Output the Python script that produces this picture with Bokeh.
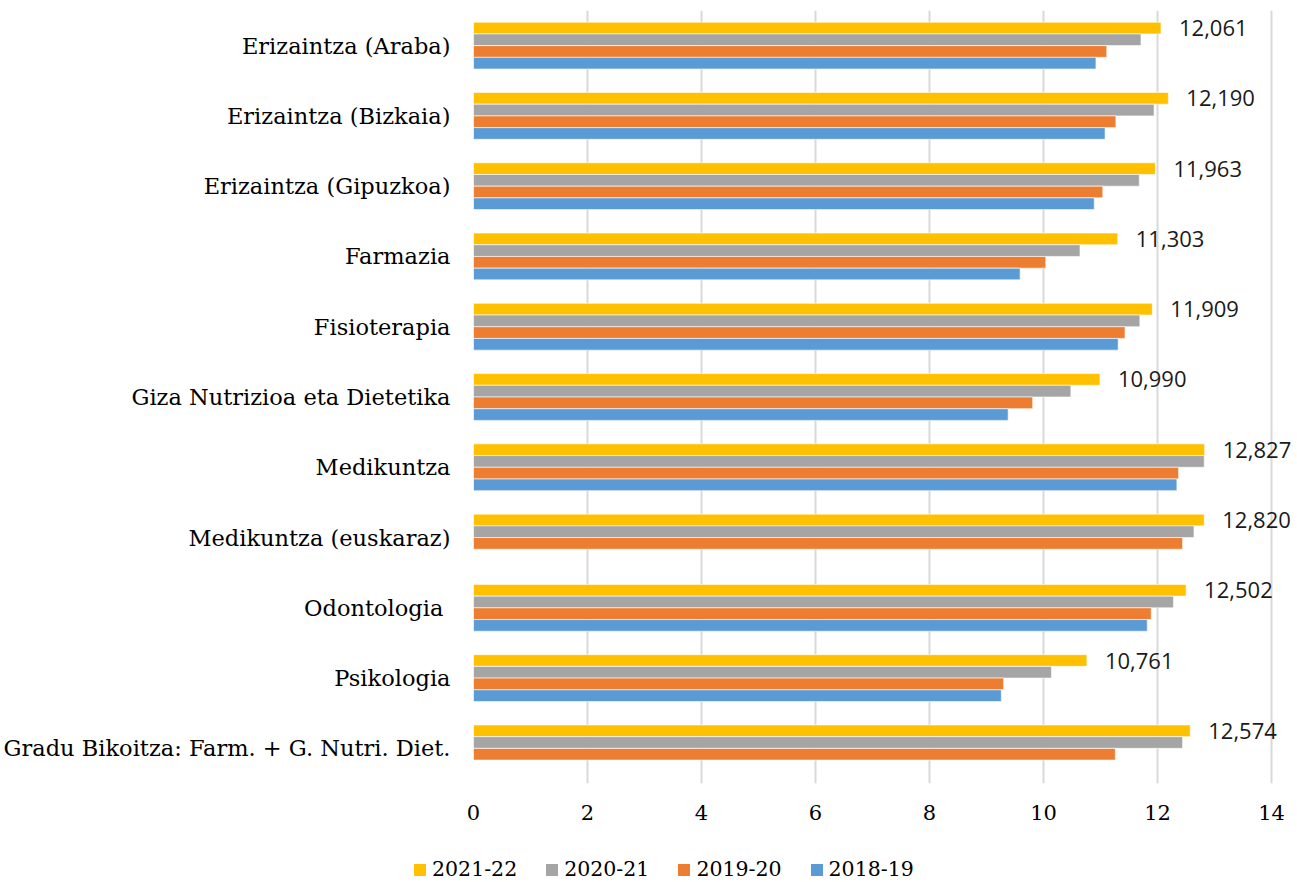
from bokeh.plotting import figure
from bokeh.models import FactorRange, Range1d, FixedTicker, Legend, LegendItem, ColumnDataSource
from bokeh.transform import dodge
from bokeh.core.properties import value
from bokeh.embed import file_html
from bokeh.resources import INLINE

nan = float("nan")

categories = [
    "Erizaintza (Araba)",
    "Erizaintza (Bizkaia)",
    "Erizaintza (Gipuzkoa)",
    "Farmazia",
    "Fisioterapia",
    "Giza Nutrizioa eta Dietetika",
    "Medikuntza",
    "Medikuntza (euskaraz)",
    "Odontologia ",
    "Psikologia",
    "Gradu Bikoitza: Farm. + G. Nutri. Diet.",
]

s2021_22 = [12.061, 12.190, 11.963, 11.303, 11.909, 10.990, 12.827, 12.820, 12.502, 10.761, 12.574]
s2020_21 = [11.71, 11.94, 11.68, 10.64, 11.69, 10.48, 12.82, 12.64, 12.28, 10.14, 12.44]
s2019_20 = [11.11, 11.27, 11.04, 10.04, 11.43, 9.81, 12.37, 12.44, 11.89, 9.30, 11.26]
s2018_19 = [10.92, 11.08, 10.89, 9.59, 11.31, 9.38, 12.34, nan, 11.82, 9.26, nan]

series_names = ["2021-22", "2020-21", "2019-20", "2018-19"]
series_colors = ["#FFC000", "#A5A5A5", "#ED7D31", "#5B9BD5"]
x_ticks = [0, 2, 4, 6, 8, 10, 12, 14]

labels_2021_22 = [f"{v:.3f}".replace(".", ",") for v in s2021_22]

src = ColumnDataSource(dict(
    cat=categories,
    a=s2021_22, b=s2020_21, c=s2019_20, d=s2018_19,
    lbl=labels_2021_22,
))

p = figure(
    width=1297, height=845,
    y_range=FactorRange(factors=list(reversed(categories))),
    x_range=Range1d(0, 14.456),
    output_backend="svg", toolbar_location=None,
    min_border_left=473, min_border_right=0, min_border_top=10, min_border_bottom=62,
)
p.outline_line_color = None
p.background_fill_color = "white"

p.xaxis.ticker = FixedTicker(ticks=x_ticks)
p.xgrid.ticker = FixedTicker(ticks=x_ticks)
p.xgrid.grid_line_color = "#D9D9D9"
p.xgrid.grid_line_width = 2
p.ygrid.grid_line_color = None

for ax in (p.xaxis, p.yaxis):
    ax.axis_line_color = None
    ax.major_tick_line_color = None
    ax.minor_tick_line_color = None
    ax.major_label_text_font = "DejaVu Serif"
    ax.major_label_text_color = "#000000"
p.yaxis.major_label_text_font_size = "22.5px"
p.xaxis.major_label_text_font_size = "21px"
p.xaxis.major_label_standoff = 15
p.yaxis.major_label_standoff = 17

cols = ["a", "b", "c", "d"]
offsets = [0.25, 0.0833, -0.0833, -0.25]
for col, color, off in zip(cols, series_colors, offsets):
    p.hbar(y=dodge("cat", off, range=p.y_range), left=0, right=col, height=0.166,
           source=src, fill_color=color, line_color="white", line_width=0.6)

p.text(x="a", y=dodge("cat", 0.25, range=p.y_range), text="lbl", source=src,
       x_offset=18, text_baseline="middle", text_align="left",
       text_font=value("Open Sans"), text_font_size="22px", text_color="#1a1a1a")

# legend strip below the chart (its renderers hold no visible data)
pl = figure(width=1297, height=37, x_range=Range1d(0, 1), y_range=Range1d(0, 1),
            output_backend="svg", toolbar_location=None,
            min_border_left=0, min_border_right=0, min_border_top=0, min_border_bottom=0)
pl.axis.visible = False
pl.grid.visible = False
pl.outline_line_color = None
items = []
for name, color in zip(series_names, series_colors):
    r = pl.hbar(y=[0.5], left=[nan], right=[nan], height=0.5, fill_color=color,
                line_color=None)
    items.append(LegendItem(label=name, renderers=[r]))
legend = Legend(items=items, orientation="horizontal", location=(412, 1),
                glyph_width=15, glyph_height=15, label_standoff=5, spacing=27,
                padding=0, margin=0, border_line_color=None, background_fill_alpha=0,
                label_text_font="DejaVu Serif", label_text_font_size="20.5px",
                label_text_color="#000000")
pl.add_layout(legend, "center")

open("out.html", "w").write(file_html([p, pl], INLINE))
